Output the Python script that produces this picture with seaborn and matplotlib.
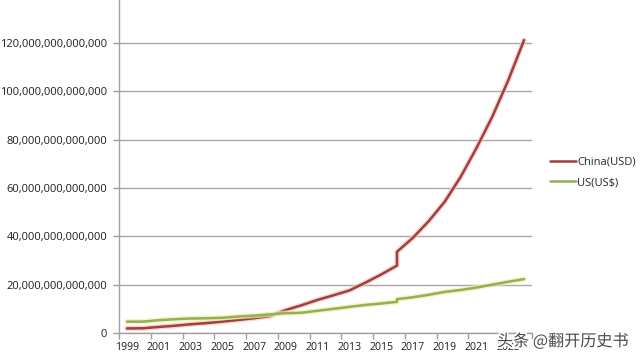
import matplotlib
matplotlib.use("Agg")
import matplotlib.pyplot as plt
import matplotlib.patheffects as pe
from matplotlib.ticker import FuncFormatter
import seaborn as sns
import pandas as pd

# ---- data (values in trillions of USD) ----
years = [1999, 2000, 2001, 2002, 2003, 2004, 2005, 2006, 2007, 2008, 2009,
         2010, 2011, 2012, 2013, 2014, 2015, 2016, 2016, 2017, 2018, 2019,
         2020, 2021, 2022, 2023, 2024]
china = [1.9, 1.95, 2.5, 3.0, 3.6, 4.1, 4.7, 5.4, 6.1, 7.0, 9.5,
         11.5, 13.7, 15.6, 17.6, 20.8, 24.2, 27.9, 33.6, 39.4, 46.3, 54.3,
         64.5, 76.5, 89.5, 104.5, 121.2]
us = [4.7, 4.7, 5.3, 5.7, 6.0, 6.1, 6.3, 6.8, 7.2, 7.7, 8.2,
      8.4, 9.2, 10.0, 10.8, 11.6, 12.2, 12.9, 14.0, 14.8, 15.8, 17.0,
      17.8, 18.8, 20.0, 21.2, 22.3]
series_names = ["China(USD)", "US(US$)"]
label_years = list(range(1999, 2024, 2))
watermark = "头条 @翻开历史书"

n = len(years)
df = pd.DataFrame({
    "year": years + years,
    "value": [v * 1e12 for v in china] + [v * 1e12 for v in us],
    "series": [series_names[0]] * n + [series_names[1]] * n,
})

sns.set_theme(style="white")
plt.rcParams["font.family"] = ["Open Sans", "Noto Sans CJK SC", "DejaVu Sans"]

fig = plt.figure(figsize=(6.4, 3.6), dpi=100)
ax = fig.add_axes([119 / 640, 27 / 360, 413 / 640, 338.3 / 360])

palette = {series_names[0]: "#a23f3c", series_names[1]: "#93b152"}
sns.lineplot(data=df, x="year", y="value", hue="series", palette=palette,
             estimator=None, sort=False, linewidth=1.8, ax=ax, legend=True)

halo = {series_names[0]: "#f0c8c6", series_names[1]: "#eef0b0"}
for line, name in zip(ax.get_lines()[:2], series_names):
    line.set_path_effects([pe.Stroke(linewidth=3.8, foreground=halo[name], alpha=0.7),
                           pe.Normal()])

ax.set_xlim(1998.5, 2024.5)
ax.set_ylim(0, 140e12)
ax.set_yticks([i * 20e12 for i in range(8)])
ax.yaxis.set_major_formatter(FuncFormatter(lambda v, p: f"{v:,.0f}"))
ax.grid(axis="y", color="#a8a8a8", linewidth=1.0)
ax.set_axisbelow(True)

bounds = [1998.5 + 2 * i for i in range(14)]
ax.set_xticks(bounds)
ax.set_xticklabels([])
ax.set_xticks(label_years, [str(y) for y in label_years], minor=True)
ax.tick_params(axis="x", which="major", length=4, width=1, color="#a0a0a0",
               direction="out", bottom=True)
ax.tick_params(axis="x", which="minor", length=0, pad=6.5, labelsize=7.6,
               labelcolor="#1e1e1e")
ax.tick_params(axis="y", length=4, width=1, color="#a0a0a0", direction="out",
               left=True, pad=4.5, labelsize=8, labelcolor="#1e1e1e")

for s in ["top", "right"]:
    ax.spines[s].set_visible(False)
for s in ["left", "bottom"]:
    ax.spines[s].set_color("#a0a0a0")
    ax.spines[s].set_linewidth(1.0)

ax.set_xlabel("")
ax.set_ylabel("")

handles, labels = ax.get_legend_handles_labels()
ax.legend(handles, labels, loc="center left",
          bbox_to_anchor=(550 / 640, 1 - 172.5 / 360),
          bbox_transform=fig.transFigure, frameon=False, fontsize=8,
          handlelength=2.3, handletextpad=0.15, labelspacing=0.85,
          borderpad=0, borderaxespad=0)

fig.text(497 / 640, 1 - 341.5 / 360, watermark, fontsize=11.6, color="#4a4a4a",
         family=["Noto Sans CJK SC", "DejaVu Sans"], va="center", ha="left",
         path_effects=[pe.withStroke(linewidth=2.5, foreground="white")])

fig.savefig("out.png", dpi=100)
